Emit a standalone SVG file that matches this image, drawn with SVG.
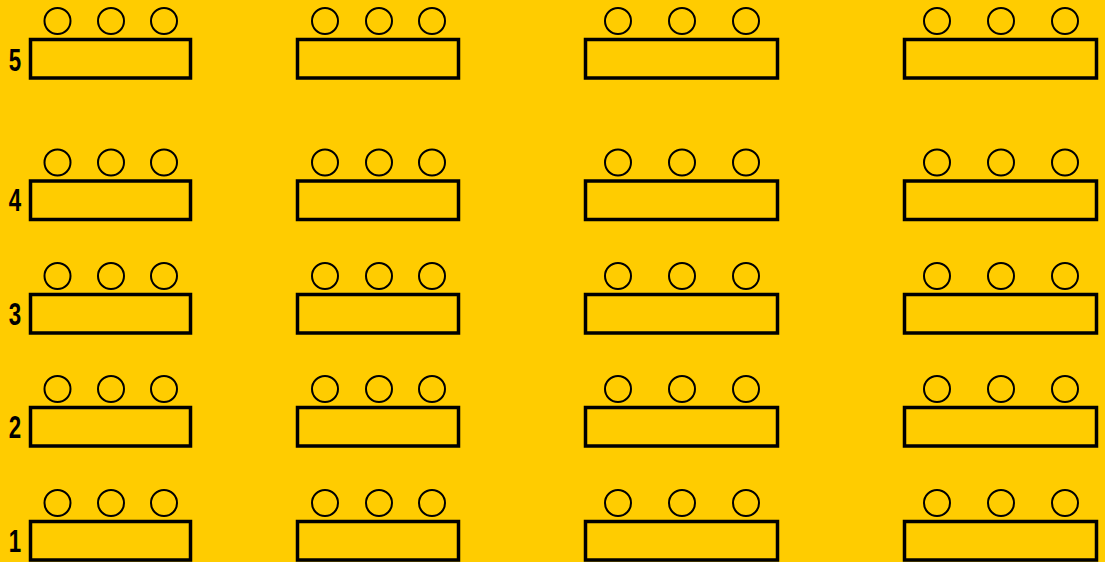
<svg xmlns="http://www.w3.org/2000/svg" width="1105" height="562" viewBox="0 0 1105 562">
<defs>
<style>
.bg{fill:#FFCC00}
.tbl{fill:none;stroke:#000;stroke-width:3.5}
.seat{fill:none;stroke:#000;stroke-width:2}
.lbl{font-family:"Liberation Sans",Arial,sans-serif;font-weight:bold;font-size:31px;fill:#000;text-anchor:middle}
</style>
<g id="t1"><circle class="seat" cx="27" cy="-18.5" r="13"/><circle class="seat" cx="80.5" cy="-18.5" r="13"/><circle class="seat" cx="133.5" cy="-18.5" r="13"/><rect class="tbl" x="0" y="0" width="160" height="38.5"/></g>
<g id="t2"><circle class="seat" cx="27.5" cy="-18.5" r="13"/><circle class="seat" cx="81.5" cy="-18.5" r="13"/><circle class="seat" cx="134.5" cy="-18.5" r="13"/><rect class="tbl" x="0" y="0" width="161" height="38.5"/></g>
<g id="t3"><circle class="seat" cx="32.5" cy="-18.5" r="13"/><circle class="seat" cx="96.5" cy="-18.5" r="13"/><circle class="seat" cx="160.5" cy="-18.5" r="13"/><rect class="tbl" x="0" y="0" width="192" height="38.5"/></g>
</defs>
<rect class="bg" x="0" y="0" width="1105" height="562"/>
<g id="row5">
<use href="#t1" x="30.5" y="39.5"/><use href="#t2" x="297.5" y="39.5"/><use href="#t3" x="585.5" y="39.5"/><use href="#t3" x="904.5" y="39.5"/>
<text class="lbl" transform="translate(15,71) scale(0.72,1)">5</text>
</g>
<g id="row4">
<use href="#t1" x="30.5" y="181"/><use href="#t2" x="297.5" y="181"/><use href="#t3" x="585.5" y="181"/><use href="#t3" x="904.5" y="181"/>
<text class="lbl" transform="translate(15,211) scale(0.72,1)">4</text>
</g>
<g id="row3">
<use href="#t1" x="30.5" y="294.5"/><use href="#t2" x="297.5" y="294.5"/><use href="#t3" x="585.5" y="294.5"/><use href="#t3" x="904.5" y="294.5"/>
<text class="lbl" transform="translate(15,325) scale(0.72,1)">3</text>
</g>
<g id="row2">
<use href="#t1" x="30.5" y="407.5"/><use href="#t2" x="297.5" y="407.5"/><use href="#t3" x="585.5" y="407.5"/><use href="#t3" x="904.5" y="407.5"/>
<text class="lbl" transform="translate(15,438) scale(0.72,1)">2</text>
</g>
<g id="row1">
<use href="#t1" x="30.5" y="521.5"/><use href="#t2" x="297.5" y="521.5"/><use href="#t3" x="585.5" y="521.5"/><use href="#t3" x="904.5" y="521.5"/>
<text class="lbl" transform="translate(15,552) scale(0.72,1)">1</text>
</g>
<g id="connectors"/>
</svg>
